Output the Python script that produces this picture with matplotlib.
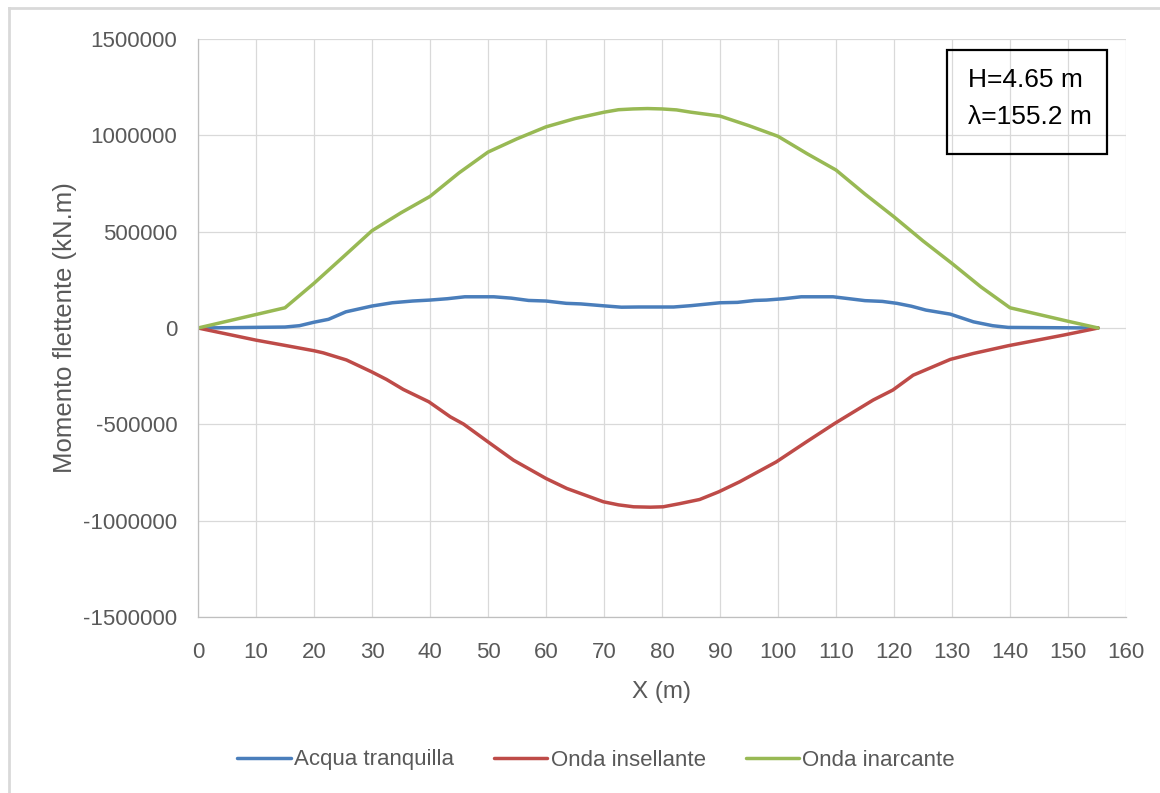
import matplotlib
matplotlib.use("Agg")
import matplotlib.pyplot as plt
from matplotlib.lines import Line2D
from matplotlib.patches import Rectangle

plt.rcParams['font.family'] = ['Liberation Sans', 'DejaVu Sans']

# ---- data ----
x_acqua = [0, 15, 17.5, 20, 22.5, 25.5, 30, 33.5, 37, 40, 43, 46, 51, 54, 57, 60, 63.5, 66, 70, 73, 76, 82,
           85, 90, 93, 96, 98, 101, 104, 109.5, 112, 115, 118, 120.5, 123, 125.5, 129.7, 133.7, 137, 139.7, 145, 155.2]
y_acqua = [0, 5000, 12000, 30000, 45000, 84000, 114000, 131000, 140000, 145000, 152000, 162000, 162000, 155000,
           143000, 140000, 128000, 125000, 115000, 108000, 109000, 109000, 116000, 131000, 133000, 143000, 145000,
           152000, 162000, 162000, 153000, 142000, 138000, 128000, 113000, 93000, 72000, 32000, 12000, 3000, 2000, 0]

x_insell = [0, 10, 15.3, 20, 21.6, 25.6, 29.9, 32.5, 35.4, 39.8, 43.5, 45.8, 50, 54.4, 60, 63.6, 69.9, 72.5,
            75.1, 78, 80.2, 83, 86.5, 89.8, 93.4, 99.7, 104.9, 109.8, 116.4, 119.8, 123.3, 129.7, 133.7, 139.7,
            149.2, 155.2]
y_insell = [0, -63000, -92000, -118000, -129000, -166000, -227000, -267000, -319000, -383000, -461000, -499000,
            -591000, -686000, -781000, -833000, -902000, -918000, -928000, -930000, -928000, -912000, -890000,
            -850000, -798000, -695000, -591000, -495000, -374000, -322000, -245000, -163000, -132000, -92000,
            -37000, 0]

x_inarc = [0, 5, 10, 15, 20, 25, 30, 35, 40, 45, 50, 55, 60, 65, 70, 72.5, 75, 77.5, 80, 82.5, 85, 90, 95,
           100, 105, 110, 115, 120, 125, 130, 135, 140, 145, 150, 155.2]
y_inarc = [0, 35000, 70000, 105000, 232000, 368000, 505000, 598000, 683000, 805000, 913000, 982000, 1044000,
           1087000, 1120000, 1133000, 1137000, 1139000, 1137000, 1132000, 1120000, 1100000, 1050000, 995000,
           905000, 820000, 695000, 577000, 452000, 335000, 213000, 105000, 70000, 35000, 0]

series_names = ["Acqua tranquilla", "Onda insellante", "Onda inarcante"]
x_ticks = list(range(0, 161, 10))
y_ticks = [-1500000, -1000000, -500000, 0, 500000, 1000000, 1500000]
x_label = "X (m)"
y_label = "Momento flettente (kN.m)"
box_lines = ["H=4.65 m", "\u03bb=155.2 m"]

# ---- figure ----
W, H = 1160, 793
fig = plt.figure(figsize=(W / 100, H / 100), dpi=100)
ax = fig.add_axes([198 / W, 1 - 617 / H, (1126 - 198) / W, (617 - 39) / H])

ax.plot(x_acqua, y_acqua, color="#4A7EBB", lw=2.5, label=series_names[0], solid_capstyle="round", solid_joinstyle="round")
ax.plot(x_insell, y_insell, color="#BE4B48", lw=2.5, label=series_names[1], solid_capstyle="round", solid_joinstyle="round")
ax.plot(x_inarc, y_inarc, color="#98B954", lw=2.5, label=series_names[2], solid_capstyle="round", solid_joinstyle="round")

ax.set_xlim(0, 160)
ax.set_ylim(-1500000, 1500000)
ax.set_xticks(x_ticks)
ax.set_xticklabels([str(v) for v in x_ticks])
ax.set_yticks(y_ticks)
ax.set_yticklabels([str(v) for v in y_ticks])
ax.grid(True, color="#D9D9D9", lw=0.9)
ax.set_axisbelow(True)
for s in ["top", "right"]:
    ax.spines[s].set_visible(False)
for s in ["left", "bottom"]:
    ax.spines[s].set_color("#BFBFBF")
    ax.spines[s].set_linewidth(0.9)
ax.tick_params(axis="both", length=0, labelsize=16, labelcolor="#595959")
ax.tick_params(axis="x", pad=18)
ax.tick_params(axis="y", pad=15)

ax.set_xlabel(x_label, fontsize=17.5, color="#595959", labelpad=13)
ax.set_ylabel(y_label, fontsize=18.5, color="#595959", labelpad=4)

# text box
fig.patches.append(Rectangle((946.7 / W, 1 - 154.3 / H), 160 / W, 104.3 / H, transform=fig.transFigure,
                             fill=False, edgecolor="black", lw=1.6, zorder=10))
fig.text(968 / W, 1 - 80 / H, box_lines[0], fontsize=19, color="black", va="center", ha="left")
fig.text(968 / W, 1 - 117 / H, box_lines[1], fontsize=19, color="black", va="center", ha="left")

# outer chart border (left and top)
fig.add_artist(Line2D([9 / W, 9 / W], [0, 1 - 8 / H], transform=fig.transFigure, color="#D9D9D9", lw=2))
fig.add_artist(Line2D([9 / W, 1], [1 - 8 / H, 1 - 8 / H], transform=fig.transFigure, color="#D9D9D9", lw=2))

fig.legend(loc="center", bbox_to_anchor=(596 / W, 1 - 760 / H), ncol=3, frameon=False, fontsize=16,
           handlelength=2.4, handletextpad=0.15, columnspacing=1.8, labelcolor="#595959")

fig.savefig("out.png", dpi=100, facecolor="white")
